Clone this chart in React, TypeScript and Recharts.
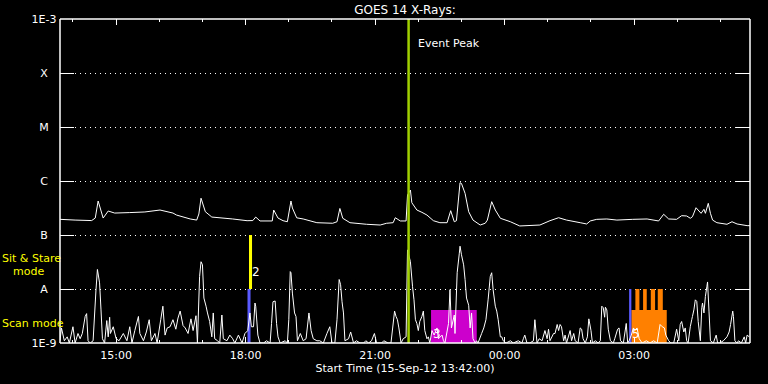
import React from 'react';
import {
  ComposedChart,
  Line,
  XAxis,
  YAxis,
  CartesianGrid,
  ReferenceLine,
  ReferenceArea,
} from 'recharts';

const FONT = '"DejaVu Sans", sans-serif';

// time axis: minutes after start (15-Sep-12 13:42:00)
const timeDomain = [0, 959];
const hourTicks = [18, 78, 138, 198, 258, 318, 378, 438, 498, 558, 618, 678, 738, 798, 858, 918];
const labelTicks = [78, 258, 438, 618, 798];
const labelTexts = ['15:00', '18:00', '21:00', '00:00', '03:00'];

// flux levels (W/m^2) and their class letters
const levelValues = [1e-9, 1e-8, 1e-7, 1e-6, 1e-5, 1e-4, 1e-3];
const levelLabels = ['1E-9', 'A', 'B', 'C', 'M', 'X', '1E-3'];

// long channel (1-8 A)
const longTimes = [
  0, 21, 44, 49, 53, 60, 67, 76, 97, 118,
  139, 157, 162, 181, 190, 193, 196, 202, 211, 240,
  260, 268, 272, 278, 295, 297, 303, 310, 316, 321,
  323, 329, 338, 357, 379, 385, 389, 393, 403, 426,
  445, 454, 463, 466, 473, 481, 483, 487, 489, 496,
  503, 510, 519, 528, 538, 543, 548, 551, 556, 558,
  563, 568, 574, 584, 591, 594, 600, 605, 612, 626,
  639, 667, 681, 693, 704, 723, 732, 737, 746, 760,
  774, 796, 816, 832, 839, 846, 857, 864, 871, 876,
  879, 884, 891, 895, 897, 901, 904, 907, 913, 927,
  934, 941, 955, 959,
];
const longFlux = [
  1.95e-7, 1.89e-7, 1.85e-7, 2.06e-7, 4.26e-7, 2.06e-7, 2.78e-7, 2.55e-7, 2.6e-7, 2.67e-7,
  2.9e-7, 2.55e-7, 2.34e-7, 1.98e-7, 1.89e-7, 2.45e-7, 4.8e-7, 2.7e-7, 2.15e-7, 1.98e-7,
  1.84e-7, 1.85e-7, 2.15e-7, 1.82e-7, 1.82e-7, 2.9e-7, 2.06e-7, 1.84e-7, 1.76e-7, 4.26e-7,
  3.16e-7, 2.08e-7, 1.98e-7, 1.69e-7, 1.65e-7, 1.76e-7, 3.1e-7, 2.04e-7, 1.69e-7, 1.58e-7,
  1.53e-7, 1.65e-7, 1.69e-7, 2.09e-7, 1.82e-7, 1.82e-7, 5.5e-7, 6.81e-7, 3.96e-7, 2.9e-7,
  2.63e-7, 2.34e-7, 1.84e-7, 1.69e-7, 1.69e-7, 2.82e-7, 1.76e-7, 1.84e-7, 9.3e-7, 9.0e-7,
  5.9e-7, 2.7e-7, 1.89e-7, 1.53e-7, 1.65e-7, 1.89e-7, 4.14e-7, 2.9e-7, 2.04e-7, 1.76e-7,
  1.47e-7, 1.53e-7, 1.84e-7, 2.09e-7, 1.89e-7, 1.69e-7, 1.6e-7, 1.82e-7, 1.95e-7, 1.98e-7,
  1.89e-7, 1.95e-7, 1.98e-7, 1.82e-7, 2.42e-7, 1.98e-7, 1.95e-7, 2.28e-7, 2.25e-7, 2.04e-7,
  2.18e-7, 3.2e-7, 2.52e-7, 2.99e-7, 2.52e-7, 3.86e-7, 2.52e-7, 1.89e-7, 1.69e-7, 1.58e-7,
  1.76e-7, 1.6e-7, 1.49e-7, 1.49e-7,
];

// short channel (0.5-4 A)
const shortTimes = [
  0, 2, 6, 10, 13, 18, 21, 25, 28, 31,
  35, 37, 39, 42, 46, 50, 52, 55, 57, 59,
  62, 65, 67, 69, 70, 74, 78, 82, 88, 93,
  97, 100, 104, 109, 111, 116, 120, 124, 127, 132,
  135, 140, 143, 146, 149, 153, 157, 161, 164, 167,
  171, 174, 178, 182, 185, 189, 191, 194, 196, 198,
  200, 203, 205, 208, 211, 213, 215, 219, 222, 225,
  227, 232, 236, 240, 243, 248, 253, 257, 261, 264,
  266, 269, 271, 272, 275, 278, 283, 287, 292, 294,
  296, 299, 301, 303, 306, 313, 316, 318, 320, 321,
  323, 326, 328, 330, 334, 338, 342, 346, 349, 352,
  357, 361, 366, 371, 375, 378, 382, 385, 388, 390,
  392, 394, 396, 401, 404, 408, 412, 417, 422, 425,
  429, 433, 437, 440, 447, 450, 456, 460, 465, 467,
  469, 471, 474, 477, 481, 483, 487, 490, 492, 494,
  496, 498, 500, 503, 505, 507, 510, 512, 514, 517,
  520, 524, 526, 531, 533, 535, 540, 542, 544, 548,
  549, 552, 555, 556, 558, 561, 563, 565, 568, 570,
  572, 574, 577, 579, 581, 586, 589, 592, 595, 598,
  600, 602, 605, 607, 609, 612, 614, 616, 620, 626,
  630, 637, 642, 644, 646, 649, 653, 658, 660, 663,
  666, 670, 674, 677, 679, 681, 686, 688, 691, 693,
  695, 697, 700, 702, 704, 709, 711, 714, 716, 720,
  723, 725, 727, 730, 733, 735, 738, 740, 744, 748,
  751, 753, 755, 757, 758, 760, 762, 765, 769, 771,
  775, 777, 779, 783, 787, 789, 791, 794, 797, 799,
  802, 805, 809, 815, 820, 825, 830, 834, 837, 840,
  842, 846, 849, 853, 857, 860, 862, 864, 867, 869,
  871, 873, 876, 878, 879, 881, 883, 885, 887, 890,
  892, 893, 895, 897, 899, 900, 902, 904, 908, 912,
  914, 917, 922, 927, 930, 932, 935, 936, 938, 941,
  943, 947, 951, 953, 955, 958,
];
const shortFlux = [
  1.1e-9, 1.9e-9, 1.1e-9, 1.3e-9, 1.0e-9, 2.0e-9, 1.0e-9, 1.5e-9, 1.2e-9, 1.5e-9,
  3.1e-9, 3.5e-9, 1.1e-9, 1.0e-9, 1.1e-9, 9.6e-9, 2.3e-8, 1.3e-8, 4.1e-9, 1.2e-9,
  1.0e-9, 2.6e-9, 1.3e-9, 3.0e-9, 1.5e-9, 2.0e-9, 1.2e-9, 1.1e-9, 1.5e-9, 1.1e-9,
  2.0e-9, 1.0e-9, 1.7e-9, 3.1e-9, 1.5e-9, 1.1e-9, 1.6e-9, 2.7e-9, 1.1e-9, 1.5e-9,
  1.0e-9, 2.7e-9, 4.8e-9, 1.4e-9, 1.9e-9, 2.0e-9, 2.7e-9, 1.8e-9, 2.9e-9, 3.9e-9,
  2.1e-9, 1.9e-9, 1.5e-9, 2.8e-9, 1.7e-9, 3.2e-9, 1.0e-9, 1.7e-8, 3.2e-8, 2.8e-8,
  6.8e-9, 4.8e-9, 3.6e-9, 2.5e-9, 1.3e-9, 3.6e-9, 1.2e-9, 1.1e-9, 1.0e-9, 3.3e-9,
  1.2e-9, 1.1e-9, 1.4e-9, 1.2e-9, 1.0e-9, 1.4e-9, 1.0e-9, 1.5e-9, 1.7e-9, 3.6e-9,
  2.0e-9, 2.0e-9, 5.5e-9, 4.8e-9, 1.4e-9, 1.0e-9, 1.0e-9, 1.1e-9, 1.0e-9, 2.3e-9,
  5.8e-9, 6.0e-9, 2.3e-9, 1.3e-9, 1.0e-9, 1.1e-9, 1.0e-9, 2.7e-9, 2.1e-8, 2.0e-8,
  8.4e-9, 3.6e-9, 3.1e-9, 1.1e-9, 1.5e-9, 1.1e-9, 1.2e-9, 3.6e-9, 1.7e-9, 1.2e-9,
  1.1e-9, 1.1e-9, 1.0e-9, 1.5e-9, 2.0e-9, 1.0e-9, 1.0e-9, 2.7e-9, 1.5e-8, 1.2e-8,
  5.8e-9, 3.6e-9, 1.1e-9, 1.2e-9, 1.6e-9, 1.0e-9, 1.1e-9, 1.0e-9, 1.0e-9, 1.1e-9,
  1.0e-9, 1.1e-9, 1.5e-9, 1.0e-9, 1.0e-9, 1.1e-9, 1.0e-9, 1.0e-9, 3.9e-9, 3.1e-9,
  2.7e-9, 1.9e-9, 1.0e-9, 1.2e-9, 1.3e-9, 5.3e-8, 3.2e-8, 1.1e-8, 6.3e-9, 2.7e-9,
  2.3e-9, 1.7e-9, 2.5e-9, 3.1e-9, 3.9e-9, 1.7e-9, 1.2e-9, 1.3e-9, 1.0e-9, 1.7e-9,
  1.4e-9, 1.9e-9, 1.2e-9, 1.4e-9, 1.1e-9, 1.0e-9, 2.3e-9, 9.7e-9, 1.9e-9, 3.3e-9,
  1.5e-9, 2.0e-8, 4.6e-8, 6.2e-8, 4.3e-8, 2.8e-8, 1.5e-8, 6.8e-9, 5.0e-9, 1.9e-9,
  3.6e-9, 1.2e-9, 1.0e-9, 1.1e-9, 1.0e-9, 1.5e-9, 1.9e-9, 2.7e-9, 6.3e-9, 1.7e-8,
  2.0e-8, 9.7e-9, 4.8e-9, 3.9e-9, 2.7e-9, 1.3e-9, 1.3e-9, 1.1e-9, 1.0e-9, 1.1e-9,
  1.0e-9, 1.1e-9, 1.0e-9, 1.2e-9, 1.4e-9, 1.0e-9, 1.0e-9, 1.1e-9, 2.7e-9, 1.0e-9,
  1.2e-9, 1.1e-9, 1.7e-9, 1.2e-9, 1.8e-9, 1.1e-9, 1.5e-9, 1.5e-9, 2.2e-9, 1.7e-9,
  2.2e-9, 2.0e-9, 1.1e-9, 1.4e-9, 1.0e-9, 1.7e-9, 1.1e-9, 1.5e-9, 1.1e-9, 1.0e-9,
  1.9e-9, 1.8e-9, 1.2e-9, 1.0e-9, 1.3e-9, 2.8e-9, 1.7e-9, 1.0e-9, 1.1e-9, 1.0e-9,
  1.1e-9, 4.8e-9, 4.5e-9, 3.0e-9, 4.6e-9, 4.1e-9, 1.8e-9, 1.1e-9, 1.0e-9, 1.2e-9,
  1.8e-9, 1.9e-9, 1.1e-9, 1.0e-9, 2.3e-9, 1.0e-9, 1.1e-9, 1.4e-9, 1.9e-9, 1.7e-9,
  1.9e-9, 1.2e-9, 1.0e-9, 1.1e-9, 1.0e-9, 1.1e-9, 1.0e-9, 2.2e-9, 2.0e-9, 1.9e-9,
  1.4e-9, 1.1e-9, 1.0e-9, 1.0e-9, 1.8e-9, 1.1e-9, 2.2e-9, 2.5e-9, 1.6e-9, 1.9e-9,
  1.1e-9, 1.0e-9, 2.0e-9, 2.7e-9, 3.1e-9, 4.1e-9, 6.3e-9, 5.9e-9, 2.5e-9, 1.1e-9,
  4.5e-9, 5.5e-9, 3.6e-9, 7.3e-9, 1.1e-8, 1.35e-8, 3.9e-9, 1.1e-9, 1.0e-9, 1.4e-9,
  1.0e-9, 1.0e-9, 1.1e-9, 1.3e-9, 1.6e-9, 2.2e-9, 3.9e-9, 3.1e-9, 1.1e-9, 1.0e-9,
  1.1e-9, 1.0e-9, 1.3e-9, 1.0e-9, 1.4e-9, 1.3e-9,
];

// annotations (time ranges in minutes, flux ranges)
const eventPeakTime = 484.5;
const sitStareSpans = [[262.7, 266.9]];
const scanStartSpans = [[260.6, 264.8], [791, 794.1]];
const scanBlockSpans = [[515.7, 579.2], [794.1, 843.3]];
const scanTeethSpans = [[799.7, 805.3], [810.4, 815.5], [821.1, 827.1], [830.8, 837.8]];
const scanBlockTop = 4.1e-9;
const blockColors = ['#cc00cc', '#ff8000'];

const longData = longTimes.map((t, i) => ({ t, flux: longFlux[i] }));
const shortData = shortTimes.map((t, i) => ({ t, flux: shortFlux[i] }));

const txt = { fill: '#fff', fontFamily: FONT, fontSize: 11 } as const;

const LeftTick = (props: any) => {
  const { x, y, payload } = props;
  const i = levelValues.indexOf(payload.value);
  const inner = i > 0 && i < levelValues.length - 1;
  return (
    <g>
      {inner && <line x1={x} x2={x + 14} y1={y} y2={y} stroke="#fff" shapeRendering="crispEdges" />}
      <text x={x - 16} y={y} textAnchor="middle" dominantBaseline="central" {...txt}>
        {levelLabels[i]}
      </text>
    </g>
  );
};

const RightTick = (props: any) => {
  const { x, y, payload } = props;
  const i = levelValues.indexOf(payload.value);
  if (i <= 0 || i >= levelValues.length - 1) return <g />;
  return <line x1={x - 14} x2={x} y1={y} y2={y} stroke="#fff" shapeRendering="crispEdges" />;
};

const BottomTick = (props: any) => {
  const { x, y, payload } = props;
  const i = labelTicks.indexOf(payload.value);
  return (
    <g>
      <line x1={x} x2={x} y1={y} y2={y - (i >= 0 ? 6 : 3)} stroke="#fff" shapeRendering="crispEdges" />
      {i >= 0 && (
        <text x={x} y={y + 12} textAnchor="middle" dominantBaseline="central" {...txt}>
          {labelTexts[i]}
        </text>
      )}
    </g>
  );
};

const TopTick = (props: any) => {
  const { x, y, payload } = props;
  const major = labelTicks.includes(payload.value);
  return <line x1={x} x2={x} y1={y} y2={y + (major ? 6 : 3)} stroke="#fff" shapeRendering="crispEdges" />;
};

const axisLineStyle = { stroke: '#fff', strokeWidth: 1.5 };

export default function App() {
  return (
    <div style={{ position: 'fixed', left: 0, top: 0, width: 768, height: 384, background: '#000' }}>
      <ComposedChart
        width={768}
        height={384}
        margin={{ top: 18, right: 17, bottom: 40, left: 59 }}
        style={{ background: '#000' }}
      >
        <XAxis
          xAxisId="bottom"
          dataKey="t"
          type="number"
          domain={timeDomain}
          allowDataOverflow
          ticks={hourTicks}
          interval={0}
          height={1}
          tickSize={0}
          tickMargin={0}
          tickLine={false}
          axisLine={axisLineStyle}
          tick={<BottomTick />}
        />
        <XAxis
          xAxisId="top"
          orientation="top"
          dataKey="t"
          type="number"
          domain={timeDomain}
          allowDataOverflow
          ticks={hourTicks}
          interval={0}
          height={1}
          tickSize={0}
          tickMargin={0}
          tickLine={false}
          axisLine={axisLineStyle}
          tick={<TopTick />}
        />
        <YAxis
          yAxisId="left"
          type="number"
          scale="log"
          domain={[1e-9, 1e-3]}
          allowDataOverflow
          ticks={levelValues}
          interval={0}
          width={1}
          tickSize={0}
          tickMargin={0}
          tickLine={false}
          axisLine={axisLineStyle}
          tick={<LeftTick />}
        />
        <YAxis
          yAxisId="right"
          orientation="right"
          type="number"
          scale="log"
          domain={[1e-9, 1e-3]}
          allowDataOverflow
          ticks={levelValues}
          interval={0}
          width={1}
          tickSize={0}
          tickMargin={0}
          tickLine={false}
          axisLine={axisLineStyle}
          tick={<RightTick />}
        />
        <CartesianGrid
          xAxisId="bottom"
          yAxisId="left"
          vertical={false}
          horizontalValues={levelValues.slice(1, -1)}
          stroke="#fff"
          strokeDasharray="1 4"
          shapeRendering="crispEdges"
        />
        {scanBlockSpans.map(([a, b], i) => (
          <ReferenceArea
            key={`blk-${i}`}
            xAxisId="bottom"
            yAxisId="left"
            x1={a}
            x2={b}
            y1={1e-9}
            y2={scanBlockTop}
            fill={blockColors[i]}
            fillOpacity={1}
            stroke="none"
          />
        ))}
        {scanTeethSpans.map(([a, b], i) => (
          <ReferenceArea
            key={`tooth-${i}`}
            xAxisId="bottom"
            yAxisId="left"
            x1={a}
            x2={b}
            y1={1e-9}
            y2={1e-8}
            fill={blockColors[1]}
            fillOpacity={1}
            stroke="none"
          />
        ))}
        {scanStartSpans.map(([a, b], i) => (
          <ReferenceArea
            key={`scan-${i}`}
            xAxisId="bottom"
            yAxisId="left"
            x1={a}
            x2={b}
            y1={1e-9}
            y2={1e-8}
            fill="#5a5aff"
            fillOpacity={1}
            stroke="none"
          />
        ))}
        {sitStareSpans.map(([a, b], i) => (
          <ReferenceArea
            key={`sit-${i}`}
            xAxisId="bottom"
            yAxisId="left"
            x1={a}
            x2={b}
            y1={1e-8}
            y2={1e-7}
            fill="#ffff00"
            fillOpacity={1}
            stroke="none"
          />
        ))}
        <Line
          xAxisId="bottom"
          yAxisId="left"
          data={longData}
          dataKey="flux"
          type="linear"
          stroke="#fff"
          strokeWidth={1}
          dot={false}
          activeDot={false}
          isAnimationActive={false}
        />
        <Line
          xAxisId="bottom"
          yAxisId="left"
          data={shortData}
          dataKey="flux"
          type="linear"
          stroke="#fff"
          strokeWidth={1}
          dot={false}
          activeDot={false}
          isAnimationActive={false}
        />
        <ReferenceLine
          xAxisId="bottom"
          yAxisId="left"
          x={eventPeakTime}
          stroke="#a0d000"
          strokeWidth={2.5}
        />
      </ComposedChart>
      <svg
        width={768}
        height={384}
        style={{ position: 'absolute', left: 0, top: 0, pointerEvents: 'none' }}
      >
        <text x={405} y={10} textAnchor="middle" dominantBaseline="central" {...txt} fontSize={12}>
          GOES 14 X-Rays:
        </text>
        <text x={405} y={368} textAnchor="middle" dominantBaseline="central" {...txt}>
          Start Time (15-Sep-12 13:42:00)
        </text>
        <text x={418} y={43} dominantBaseline="central" {...txt}>
          Event Peak
        </text>
        <text x={2} y={258} dominantBaseline="central" {...txt} fill="#ffff00">
          Sit &amp; Stare
        </text>
        <text x={13} y={271} dominantBaseline="central" {...txt} fill="#ffff00">
          mode
        </text>
        <text x={2} y={323} dominantBaseline="central" {...txt} fill="#ffff00">
          Scan mode
        </text>
        <text x={252} y={272} dominantBaseline="central" {...txt} fontSize={12}>
          2
        </text>
        <text x={433} y={334} dominantBaseline="central" {...txt} fontSize={12}>
          3
        </text>
        <text x={632} y={334} dominantBaseline="central" {...txt} fontSize={12}>
          5
        </text>
      </svg>
    </div>
  );
}
